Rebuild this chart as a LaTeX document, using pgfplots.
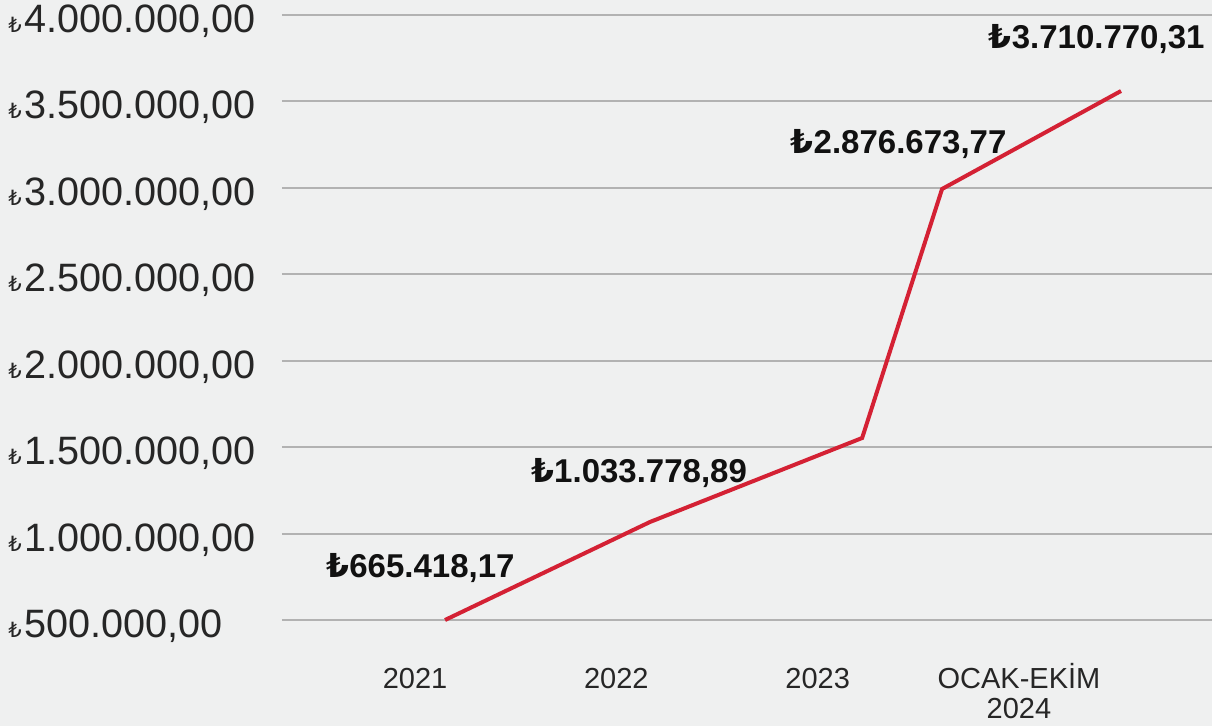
\documentclass[border=0pt]{standalone}
\usepackage{pgfplots}
\pgfplotsset{compat=1.18}
\usepackage{fontspec}
\setmainfont{Liberation Sans}
\newfontfamily\lirafont{DejaVu Sans}

\definecolor{bg}{RGB}{239,240,240}
\definecolor{gridc}{RGB}{178,178,178}
\definecolor{linered}{RGB}{212,33,52}
\definecolor{ticktext}{RGB}{38,38,38}
\definecolor{valtext}{RGB}{17,17,17}

% small lira sign in the y tick labels, full size in the value labels
\newcommand\ytl[1]{{\lirafont\fontsize{10.5}{10.5}\selectfont ₺}\hspace{1.5pt}#1}
\newcommand\val[1]{{\lirafont\bfseries ₺}#1}

\begin{document}
\begin{tikzpicture}
\path[use as bounding box, fill=bg] (0,0) rectangle (606pt,363pt);
\begin{axis}[
    at={(141pt,53pt)}, anchor=south west,
    scale only axis,
    width=465pt, height=302.5pt,
    xmin=-0.661, xmax=3.959,
    ymin=500000, ymax=4000000,
    axis line style={draw=none},
    tick style={draw=none},
    ymajorgrids=true,
    grid style={gridc, line width=1pt},
    scaled y ticks=false,
    ytick={500000,1000000,1500000,2000000,2500000,3000000,3500000,4000000},
    yticklabels={\ytl{500.000,00},\ytl{1.000.000,00},\ytl{1.500.000,00},\ytl{2.000.000,00},
                 \ytl{2.500.000,00},\ytl{3.000.000,00},\ytl{3.500.000,00},\ytl{4.000.000,00}},
    yticklabel style={anchor=base west, inner sep=0pt, xshift=-137pt, yshift=-8.75pt,
                      font=\fontsize{19.8}{19.8}\selectfont, text=ticktext},
    xtick={0,1,2,3},
    xticklabels={2021,2022,2023,{\begin{tabular}[t]{@{}c@{}}OCAK-EKİM\\2024\end{tabular}}},
    xticklabel style={anchor=base, inner sep=0pt, yshift=-34.5pt,
                      font=\fontsize{14.5}{15}\selectfont, text=ticktext},
    clip=false,
  ]

  \addplot[color=linered, line width=2pt, mark=none, line join=miter]
    coordinates {
    (0.149,500000)(1.167,1066940)(2.221,1552890)(2.618,2993390)(3.507,3560330)
    };

  \begin{scope}[every node/.style={anchor=base, inner sep=0pt, text=valtext,
                font=\fontsize{16.5}{16.5}\selectfont\bfseries}]
  \node at (axis cs:0.027,742970)  {\val{665.418,17}};
  \node at (axis cs:1.113,1292545) {\val{1.033.778,89}};
  \node at (axis cs:2.402,3201600) {\val{2.876.673,77}};
  \node at (axis cs:3.386,3809000) {\val{3.710.770,31}};
  \end{scope}

  \end{axis}
\end{tikzpicture}
\end{document}
